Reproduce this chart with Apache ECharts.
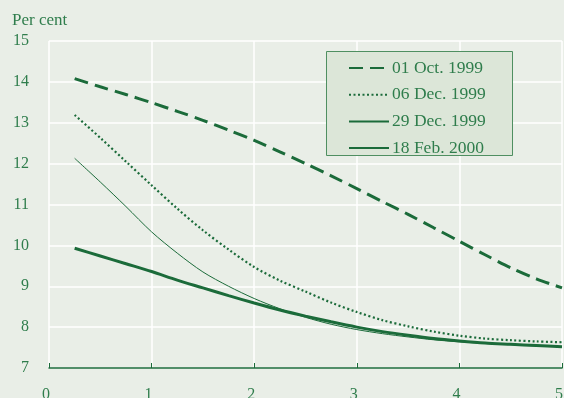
<!DOCTYPE html>
<html>
<head>
<meta charset="utf-8">
<script src="https://cdn.jsdelivr.net/npm/echarts@6/dist/echarts.min.js"></script>
<style>
html,body{margin:0;padding:0;background:#e9eee7;}
#c{width:564px;height:398px;}
</style>
</head>
<body>
<div id="c"></div>
<script>
var xTicks = [0, 1, 2, 3, 4, 5];
var yTicks = [7, 8, 9, 10, 11, 12, 13, 14, 15];
var seriesNames = ['01 Oct. 1999', '06 Dec. 1999', '29 Dec. 1999', '18 Feb. 2000'];

var oct01 = [[0.25,14.08],[0.5,13.88],[0.75,13.69],[1.0,13.49],[1.25,13.28],[1.5,13.06],[1.75,12.82],[2.0,12.57],[2.25,12.29],[2.5,12.0],[2.75,11.7],[3.0,11.39],[3.25,11.07],[3.5,10.76],[3.75,10.43],[4.0,10.1],[4.25,9.77],[4.5,9.45],[4.75,9.18],[5.0,8.96]];
var dec06 = [[0.25,13.19],[0.5,12.63],[0.75,12.05],[1.0,11.47],[1.25,10.9],[1.5,10.37],[1.75,9.9],[2.0,9.47],[2.25,9.14],[2.5,8.87],[2.75,8.6],[3.0,8.37],[3.25,8.17],[3.5,8.02],[3.75,7.89],[4.0,7.79],[4.25,7.72],[4.5,7.68],[4.75,7.65],[5.0,7.63]];
var dec29 = [[0.25,12.13],[0.5,11.55],[0.75,10.95],[1.0,10.33],[1.25,9.81],[1.5,9.35],[1.75,9.0],[2.0,8.7],[2.25,8.45],[2.5,8.24],[2.75,8.07],[3.0,7.94],[3.25,7.84],[3.5,7.76],[3.75,7.69],[4.0,7.64],[4.25,7.6],[4.5,7.57],[4.75,7.54],[5.0,7.52]];
var feb18 = [[0.25,9.93],[0.5,9.74],[0.75,9.55],[1.0,9.36],[1.25,9.15],[1.5,8.96],[1.75,8.77],[2.0,8.59],[2.25,8.42],[2.5,8.27],[2.75,8.13],[3.0,8.0],[3.25,7.89],[3.5,7.8],[3.75,7.72],[4.0,7.66],[4.25,7.61],[4.5,7.58],[4.75,7.55],[5.0,7.52]];

var green = '#1b6b3a';
var textGreen = '#2f7d4c';
var serif = '"Liberation Serif", "Times New Roman", serif';

var chart = echarts.init(document.getElementById('c'), null, {renderer: 'canvas'});
function mk(name, data, style) {
  return {
    name: name, type: 'line', data: data, smooth: 0.3, symbol: 'none',
    lineStyle: style, itemStyle: {color: green}, animation: false
  };
}
chart.setOption({
  backgroundColor: '#e9eee7',
  animation: false,
  grid: {left: 49, right: 2, top: 41, bottom: 30, containLabel: false, outerBoundsMode: 'none'},
  graphic: [
    {type: 'text', left: 12, top: 12, style: {text: 'Per cent', font: '17px ' + serif, fill: textGreen}},
    {type: 'rect', z: 5, shape: {x: 326.5, y: 51.5, width: 186, height: 104},
     style: {fill: '#dce6d8', stroke: '#4f8f61', lineWidth: 1}}
  ],
  legend: {
    z: 10,
    orient: 'vertical', left: 340, top: 57,
    itemWidth: 40, itemHeight: 14, itemGap: 8.7, padding: [2, 0, 0, 8],
    itemStyle: {opacity: 0},
    textStyle: {fontFamily: serif, fontSize: 17.5, color: textGreen, padding: [0,0,0,-2]},
    data: seriesNames
  },
  xAxis: {
    type: 'value', min: 0, max: 5, interval: 1,
    axisLine: {show: true, lineStyle: {color: green, width: 1.5}},
    axisTick: {show: true, inside: true, length: 5, lineStyle: {color: green}},
    axisLabel: {fontFamily: serif, fontSize: 16, color: textGreen, margin: 19, padding: [0, 6, 0, 0]},
    splitLine: {show: true, lineStyle: {color: '#ffffff', width: 1.5}}
  },
  yAxis: {
    type: 'value', min: 7, max: 15, interval: 1,
    axisLine: {show: false}, axisTick: {show: false},
    axisLabel: {fontFamily: serif, fontSize: 16, color: textGreen, margin: 20},
    splitLine: {show: true, lineStyle: {color: '#ffffff', width: 1.5}}
  },
  series: [
    mk(seriesNames[0], oct01, {color: green, width: 3, type: [14, 7]}),
    mk(seriesNames[1], dec06, {color: green, width: 2.2, type: [2, 2.5]}),
    mk(seriesNames[2], dec29, {color: green, width: 1}),
    mk(seriesNames[3], feb18, {color: green, width: 3})
  ]
});
</script>
</body>
</html>
